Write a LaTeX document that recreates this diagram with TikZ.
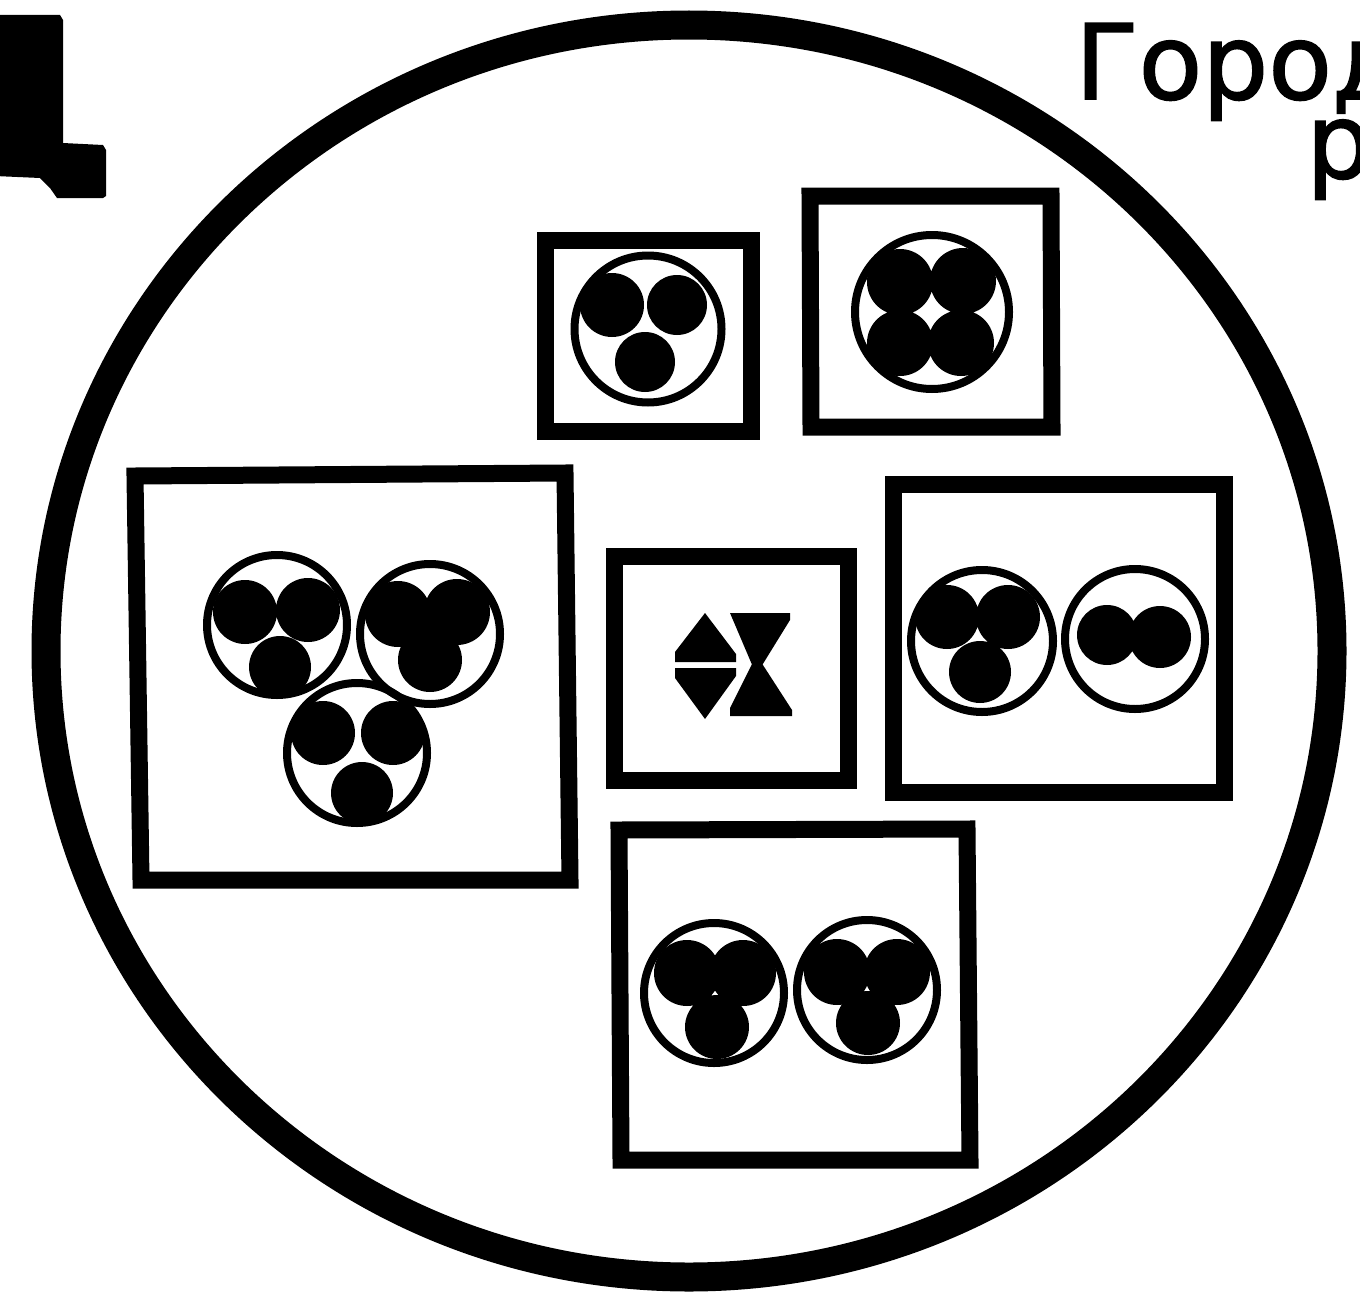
\documentclass[tikz,border=0pt]{standalone}
\usepackage{fontspec}
\newfontfamily\labelfont[FakeBold=1.6]{DejaVu Sans}
\begin{document}
\begin{tikzpicture}[x=1pt,y=-1pt,
  bigring/.style={line width=29pt},
  frame/.style={line width=17pt, line join=miter},
  ring/.style={line width=8pt},
  dot/.style={fill=black},
  lbl/.style={font=\labelfont\fontsize{104}{79}\selectfont, inner sep=0pt, anchor=base west}]
\useasboundingbox (0,0) rectangle (1360,1298);
\begin{scope}
\clip (0,0) rectangle (1360,1298);
% cropped glyph at top left
\fill (-5,15) -- (60,15) -- (63,20) -- (63,143) -- (103,145) -- (106,150) -- (106,196) -- (103,198) -- (57,198) -- (50,188) -- (40,178) -- (-5,176) -- cycle;
% big circle
\draw[bigring] (689,651) ellipse [x radius=643pt, y radius=626pt];
% box A
\draw[frame] (545,240) -- (751,240) -- (751,431) -- (545,431) -- cycle;
\draw[ring] (648,329) circle [radius=73.5pt];
\fill[dot] (612,305) circle [radius=32pt] (677,305) circle [radius=30pt] (645,362) circle [radius=30pt];
% box B
\draw[frame] (810,196) -- (1051,196) -- (1052,427) -- (811,427) -- cycle;
\draw[ring] (932,312) circle [radius=77pt];
\fill[dot] (900,282) circle [radius=33pt] (963,281) circle [radius=33pt] (900,343) circle [radius=33pt] (961,343) circle [radius=33pt];
% box C
\draw[frame] (135,476) -- (565,473) -- (570,880) -- (141,880) -- cycle;
\draw[ring] (277,625) circle [radius=70pt];
\fill[dot] (245,612) circle [radius=32pt] (308,610) circle [radius=32pt] (280,667) circle [radius=31pt];
\draw[ring] (430,634) circle [radius=70pt];
\fill[dot] (398,614) circle [radius=33pt] (457,612) circle [radius=33pt] (430,660) circle [radius=32pt];
\draw[ring] (357,753) circle [radius=70pt];
\fill[dot] (323,733) circle [radius=32pt] (393,733) circle [radius=32pt] (362,793) circle [radius=31pt];
% box D
\draw[frame] (614,556) -- (848,556) -- (848,780) -- (614,780) -- cycle;
\fill[dot] (705,613) -- (736,654) -- (736,662) -- (675,662) -- (675,652) -- cycle;
\fill[dot] (675,668) -- (736,668) -- (736,676) -- (705,719) -- (675,678) -- cycle;
\fill[dot] (730,613) -- (790,613) -- (790,620) -- (761,667) -- (753,667) -- cycle;
\fill[dot] (753,662) -- (761,662) -- (792,710) -- (792,716) -- (730,716) -- (730,708) -- cycle;
% box E
\draw[frame] (893,484) -- (1224,484) -- (1224,792) -- (893,792) -- cycle;
\draw[ring] (982,641) circle [radius=71pt];
\fill[dot] (947,617) circle [radius=32pt] (1008,617) circle [radius=32pt] (980,672) circle [radius=31pt];
\draw[ring] (1135,639) circle [radius=70pt];
\fill[dot] (1107,635) circle [radius=30pt] (1160,637) circle [radius=31pt];
% box F
\draw[frame] (619,830) -- (967,829) -- (970,1160) -- (621,1160) -- cycle;
\draw[ring] (714,993) circle [radius=70pt];
\fill[dot] (687,973) circle [radius=33pt] (743,973) circle [radius=33pt] (717,1027) circle [radius=32pt];
\draw[ring] (867,990) circle [radius=70pt];
\fill[dot] (837,972) circle [radius=33pt] (897,972) circle [radius=33pt] (868,1023) circle [radius=32pt];
% labels
\node[lbl] (city) at (1075,99) {Город};
\node[lbl] (second) at (1306,178) {р};
\end{scope}
\end{tikzpicture}
\end{document}
